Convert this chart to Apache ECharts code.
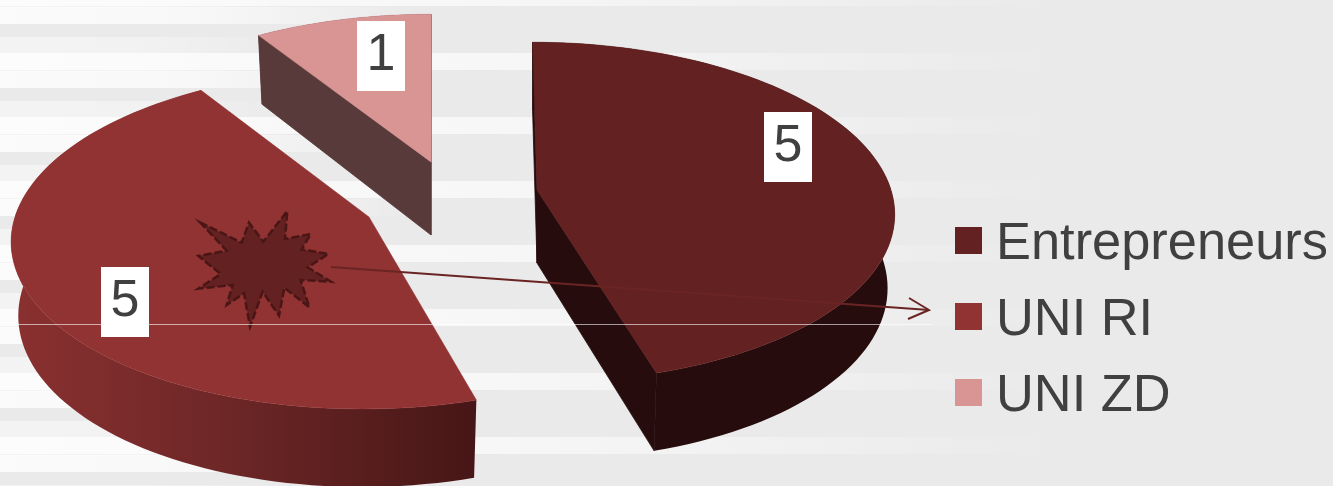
<!DOCTYPE html>
<html><head><meta charset="utf-8">
<script src="https://cdn.jsdelivr.net/npm/echarts@6/dist/echarts.min.js"></script>
<style>html,body{margin:0;padding:0;background:#eaeaea}#c{width:1333px;height:486px}</style>
</head><body><div id="c"></div>
<script>
const categories = ['Entrepreneurs', 'UNI RI', 'UNI ZD'];
const values = [5, 5, 1];
const topColors = ['#632121', '#923333', '#d99594'];
const cutColors = ['#260c0c', '#4a1616', '#583a3a'];
const centersX = [537, 369, 431];
const centersY = [190, 217, 162];
const shears = [5, -6, 0];
const labelX = [788, 125, 381];
const labelY = [147, 302, 56];
const FONT = '"Liberation Sans", Arial, sans-serif';
const R = 354, RY = 167, PERSP = 0.13;
const total = values.reduce((a, b) => a + b, 0);
const startAngles = []; values.reduce((acc, v, i) => (startAngles[i] = acc, acc + v), 0);

function proj(i, rho, theta, lift) {
  const u = rho * Math.sin(theta) * (lift ? 0.98 : 1), v = -rho * Math.cos(theta);
  const s = 1 / (1 - PERSP * v);
  const depth = lift ? 73 + 5 * v : 0;
  return [centersX[i] + (R * u + shears[i] * v) * s, centersY[i] + RY * v * s + depth];
}
function renderSlice(i) {
  return function (params, api) {
    const val = api.value(0);
    const a0 = startAngles[i] / total * 2 * Math.PI;
    const a1 = a0 + val / total * 2 * Math.PI;
    const topRim = [], botRim = [];
    for (let k = 0; k <= 90; k++) {
      const t = a0 + (a1 - a0) * k / 90;
      topRim.push(proj(i, 1, t, false));
      botRim.push(proj(i, 1, t, true));
    }
    const wallFill = i === 1
      ? new echarts.graphic.LinearGradient(15, 0, 475, 0, [
          { offset: 0, color: '#8a3030' }, { offset: 0.45, color: '#6e2727' }, { offset: 1, color: '#471616' }], true)
      : (i === 0 ? '#260c0c' : cutColors[i]);
    const children = [{ type: 'polygon', shape: { points: topRim.concat(botRim.slice().reverse()) }, style: { fill: wallFill } }];
    [[a0, -1], [a1, 1]].forEach(([a, dir]) => {
      if (-Math.cos(a + dir * Math.PI / 2) > -0.01) {
        children.push({ type: 'polygon', shape: { points: [
          proj(i, 0, a, false), proj(i, 1, a, false), proj(i, 1, a, true), proj(i, 0, a, true)] },
          style: { fill: cutColors[i], stroke: cutColors[i], lineWidth: 0.8 } });
      }
    });
    children.push({ type: 'polygon', shape: { points: [proj(i, 0, a0, false)].concat(topRim) }, style: { fill: topColors[i], stroke: topColors[i], lineWidth: 0.5 } });
    children.push({ type: 'rect', shape: { x: labelX[i] - 24, y: labelY[i] - 35, width: 48, height: 70 }, style: { fill: '#fff' } });
    children.push({ type: 'text', x: labelX[i], y: labelY[i], style: { text: String(val), font: '52px ' + FONT, fill: '#404040', align: 'center', verticalAlign: 'middle' } });
    return { type: 'group', children };
  };
}

// backdrop streaks
const streaks = [];
function streak(y, h, alpha, x2) {
  streaks.push({ type: 'rect', z: 0, silent: true, shape: { x: 0, y, width: x2, height: h },
    style: { fill: new echarts.graphic.LinearGradient(0, 0, 1, 0, [
      { offset: 0, color: 'rgba(255,255,255,' + alpha + ')' }, { offset: 0.45, color: 'rgba(255,255,255,' + alpha * 0.85 + ')' },
      { offset: 1, color: 'rgba(255,255,255,0)' }]) } });
}
for (let k = -1; k < 8; k++) {
  const p = 64 * k;
  streak(p + 53, 17, 0.75, 1060);   // long bands
  streak(p + 7, 17, 0.8, 420);      // short left bands
  streak(p + 37, 35, 0.45, 300);
}

const starPx = [[60,97],[185,158],[207,98],[250,155],[322,63],[315,147],[392,132],[365,178],[445,192],[383,232],[453,275],[362,270],[388,352],[313,293],[297,377],[248,305],[210,410],[192,310],[140,345],[158,285],[55,296],[122,252],[55,198],[140,182]]
  .map(p => [180 + p[0] / 3, 190 + p[1] / 3]);

const overlays = [
  { type: 'polygon', z: 100, silent: true, shape: { points: starPx },
    style: { fill: '#632121', stroke: '#4a1515', lineWidth: 2.5, lineDash: [8, 3] } },
  { type: 'line', z: 101, silent: true, shape: { x1: 18, y1: 324.5, x2: 932, y2: 324.5 },
    style: { stroke: 'rgba(255,255,255,0.6)', lineWidth: 1.2 } },
  { type: 'polyline', z: 102, silent: true, shape: { points: [[331, 267], [929, 310]] },
    style: { stroke: '#6b2424', lineWidth: 2, fill: null } },
  { type: 'polyline', z: 102, silent: true, shape: { points: [[909, 298], [929, 310], [908, 319]] },
    style: { stroke: '#6b2424', lineWidth: 2, fill: null } }
];

const chart = echarts.init(document.getElementById('c'), null, { renderer: 'canvas' });
chart.setOption({
  animation: false,
  backgroundColor: '#eaeaea',
  graphic: { elements: streaks.concat(overlays) },
  legend: {
    data: categories, left: 955, top: 218.5, padding: 0, orient: 'vertical', selectedMode: false,
    icon: 'path://M0 0H27V27H0ZM0 35L0 35', itemWidth: 27, itemHeight: 35, itemGap: 24,
    textStyle: { fontFamily: FONT, fontSize: 52.4, color: '#404040', lineHeight: 52, padding: [0, 0, 0, 9] }
  },
  series: categories.map((name, i) => ({
    type: 'custom', name, coordinateSystem: 'none', z: 5 - i,
    itemStyle: { color: topColors[i] },
    data: [[values[i]]],
    renderItem: renderSlice(i)
  }))
});
</script></body></html>
